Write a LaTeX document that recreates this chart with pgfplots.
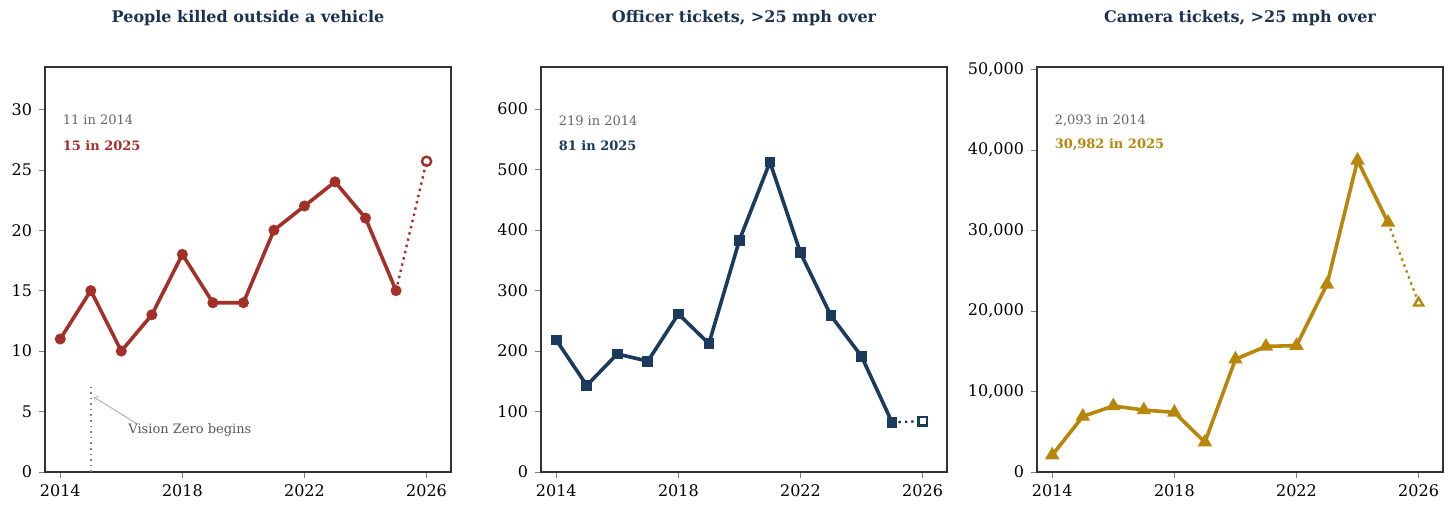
\documentclass[border=0pt]{standalone}
\usepackage{pgfplots}
\pgfplotsset{compat=1.18}
\usepackage{fontspec}
\setmainfont{DejaVu Serif}
\definecolor{cred}{HTML}{A3312A}
\definecolor{cnavy}{HTML}{1B3A5C}
\definecolor{cgold}{HTML}{B8860B}
\definecolor{ctitle}{HTML}{1B3350}
\pgfplotsset{
  base/.style={width=203pt,height=202.5pt,scale only axis,
    xmin=2013.5,xmax=2026.8,xtick={2014,2018,2022,2026},
    /pgf/number format/assume math mode=true,
    /pgf/number format/1000 sep={},
    tick label style={font=\fontsize{8}{9}\selectfont},
    tick align=outside, tick pos=left, major tick length=3pt,
    axis line style={draw=black!80,line width=0.6pt},
    clip=false},
}
\begin{document}
\begin{tikzpicture}
\fill[white] (0,0) rectangle (728pt,256pt);
\useasboundingbox (0,0) rectangle (728pt,256pt);
% panel 1
\begin{axis}[base, at={(22.5pt,20pt)}, ymin=0, ymax=33.5, ytick={0,5,...,30}]
\addplot[cred, line width=1.8pt, mark=*, mark size=1.8pt] coordinates {
(2014,11)(2015,15)(2016,10)(2017,13)(2018,18)(2019,14)(2020,14)(2021,20)(2022,22)(2023,24)(2024,21)(2025,15)};
\addplot[cred, line width=1.2pt, dotted] coordinates {(2025,15)(2026,25.7)};
\addplot[cred, line width=1.2pt, only marks, mark=o, mark size=2.3pt, mark options={fill=white}] coordinates {(2026,25.7)};
\addplot[gray, line width=0.8pt, dotted] coordinates {(2015,0)(2015,7)};
\draw[gray!70,->] (axis cs:2016.5,4.0) -- (axis cs:2015.1,6.2);
\node[anchor=west,font=\fontsize{6.5}{7}\selectfont,text=black!65] at (axis cs:2016.0,3.5) {Vision Zero begins};
\node[anchor=west,font=\fontsize{6.5}{7}\selectfont,text=black!60] at (axis cs:2013.85,29.1) {11 in 2014};
\node[anchor=west,font=\fontsize{6.5}{7}\selectfont\bfseries,text=cred] at (axis cs:2013.85,27.0) {15 in 2025};
\node[font=\fontsize{8}{9}\selectfont\bfseries,text=ctitle] at (rel axis cs:0.5,1.121) {People killed outside a vehicle};
\end{axis}
% panel 2
\begin{axis}[base, at={(270.5pt,20pt)}, ymin=0, ymax=669, ytick={0,100,...,600}]
\addplot[cnavy, line width=1.8pt, mark=square*, mark size=1.8pt] coordinates {
(2014,218)(2015,143)(2016,195)(2017,183)(2018,261)(2019,212)(2020,383)(2021,512)(2022,362)(2023,258)(2024,191)(2025,82)};
\addplot[cnavy, line width=1.2pt, dotted] coordinates {(2025,82)(2026,84)};
\addplot[cnavy, line width=1.2pt, only marks, mark=square*, mark size=2.1pt, mark options={fill=white}] coordinates {(2026,84)};
\node[anchor=west,font=\fontsize{6.5}{7}\selectfont,text=black!60] at (axis cs:2013.85,580) {219 in 2014};
\node[anchor=west,font=\fontsize{6.5}{7}\selectfont\bfseries,text=cnavy] at (axis cs:2013.85,539) {81 in 2025};
\node[font=\fontsize{8}{9}\selectfont\bfseries,text=ctitle] at (rel axis cs:0.5,1.121) {Officer tickets, >25 mph over};
\end{axis}
% panel 3
\begin{axis}[base, at={(518.5pt,20pt)}, ymin=0, ymax=50300, ytick={0,10000,...,50000},
  yticklabel style={/pgf/number format/1000 sep={,}}, scaled y ticks=false]
\addplot[cgold, line width=1.8pt, mark=triangle*, mark size=2.4pt] coordinates {
(2014,2093)(2015,6900)(2016,8200)(2017,7700)(2018,7400)(2019,3700)(2020,14000)(2021,15600)(2022,15700)(2023,23300)(2024,38700)(2025,30982)};
\addplot[cgold, line width=1.2pt, dotted] coordinates {(2025,30982)(2026,21000)};
\addplot[cgold, line width=1.2pt, only marks, mark=triangle*, mark size=2.6pt, mark options={fill=white}] coordinates {(2026,21000)};
\node[anchor=west,font=\fontsize{6.5}{7}\selectfont,text=black!60] at (axis cs:2013.85,43700) {2,093 in 2014};
\node[anchor=west,font=\fontsize{6.5}{7}\selectfont\bfseries,text=cgold] at (axis cs:2013.85,40600) {30,982 in 2025};
\node[font=\fontsize{8}{9}\selectfont\bfseries,text=ctitle] at (rel axis cs:0.5,1.121) {Camera tickets, >25 mph over};
\end{axis}
\end{tikzpicture}
\end{document}
